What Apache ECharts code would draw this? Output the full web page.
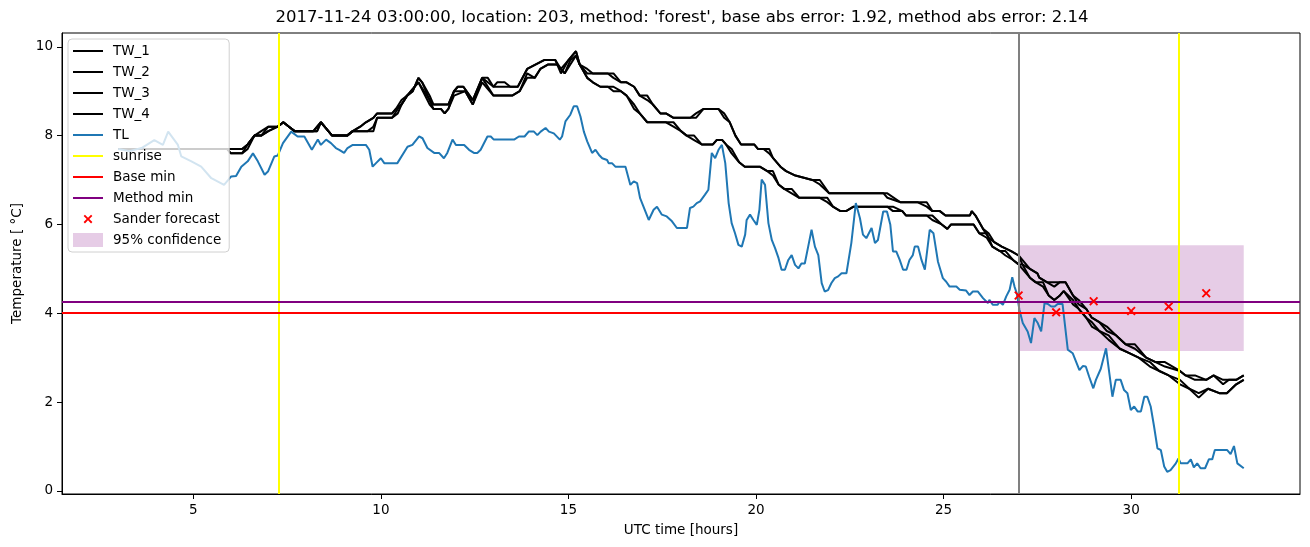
<!DOCTYPE html>
<html>
<head>
<meta charset="utf-8">
<script src="https://cdn.jsdelivr.net/npm/echarts@6/dist/echarts.min.js"></script>
<style>html,body{margin:0;padding:0;background:#fff}#c{width:1310px;height:547px}</style>
</head>
<body>
<div id="c"></div>
<script>
// ---- data (hours UTC, temperature °C) ----
const titleText = "2017-11-24 03:00:00, location: 203, method: 'forest', base abs error: 1.92, method abs error: 2.14";
const xTicks = [5, 10, 15, 20, 25, 30];
const yTicks = [0, 2, 4, 6, 8, 10];

const tw1 = [[3.0,7.7],[5.9,7.7],[6.0,7.7],[6.3,7.7],[6.45,7.8],[6.63,8.0],[6.81,8.1],[7.0,8.2],[7.25,8.2],[7.4,8.3],[7.55,8.2],[7.7,8.1],[8.2,8.1],[8.3,8.2],[8.4,8.3],[8.5,8.2],[8.6,8.1],[8.7,8.0],[9.1,8.0],[9.25,8.1],[9.45,8.2],[9.6,8.3],[9.8,8.4],[9.9,8.5],[10.3,8.5],[10.4,8.6],[10.55,8.8],[10.7,8.9],[10.85,9.0],[11.0,9.3],[11.1,9.2],[11.3,8.8],[11.4,8.7],[11.7,8.7],[11.8,8.7],[11.95,9.0],[12.05,9.1],[12.2,9.1],[12.45,8.8],[12.7,9.3],[12.85,9.3],[13.0,9.1],[13.1,9.1],[13.3,9.1],[13.45,9.1],[13.65,9.1],[13.9,9.5],[14.35,9.7],[14.65,9.7],[14.8,9.4],[15.0,9.7],[15.2,9.9],[15.3,9.6],[15.5,9.5],[15.65,9.4],[15.75,9.4],[15.9,9.4],[16.05,9.4],[16.2,9.3],[16.4,9.2],[16.55,9.2],[16.75,9.1],[16.9,8.9],[17.1,8.8],[17.25,8.7],[17.45,8.5],[17.6,8.5],[17.8,8.4],[18.25,8.4],[18.4,8.5],[18.6,8.6],[19.0,8.6],[19.15,8.4],[19.3,8.3],[19.45,8.0],[19.6,7.8],[19.95,7.8],[20.05,7.7],[20.2,7.7],[20.35,7.6],[20.45,7.5],[20.65,7.3],[20.8,7.2],[21.05,7.1],[21.5,7.0],[21.7,6.9],[21.95,6.7],[23.4,6.7],[23.5,6.6],[23.85,6.5],[24.3,6.5],[24.55,6.4],[24.7,6.3],[24.9,6.3],[25.05,6.2],[25.7,6.2],[25.75,6.3],[25.85,6.2],[26.05,5.9],[26.2,5.7],[26.35,5.6],[26.55,5.5],[26.8,5.4],[27.0,5.3],[27.1,5.1],[27.3,5.0],[27.5,4.9],[27.55,4.8],[27.75,4.7],[27.95,4.6],[28.1,4.7],[28.25,4.7],[28.45,4.4],[28.6,4.2],[28.8,4.1],[28.95,3.9],[29.15,3.8],[29.35,3.6],[29.6,3.5],[29.85,3.3],[30.1,3.2],[30.4,3.0],[30.65,2.9],[30.9,2.8],[31.3,2.7],[31.45,2.6],[31.7,2.5],[32.0,2.5],[32.2,2.6],[32.45,2.5],[32.6,2.5],[32.8,2.5],[33.0,2.6]];

const tw2 = [[3.0,7.7],[5.9,7.7],[6.0,7.7],[6.3,7.7],[6.45,7.8],[6.63,8.0],[6.81,8.0],[7.0,8.2],[7.25,8.2],[7.4,8.3],[7.55,8.2],[7.7,8.1],[8.2,8.1],[8.3,8.1],[8.4,8.3],[8.5,8.2],[8.6,8.1],[8.7,8.0],[9.1,8.0],[9.25,8.1],[9.45,8.2],[9.6,8.3],[9.8,8.4],[9.9,8.5],[10.3,8.5],[10.4,8.6],[10.55,8.7],[10.7,8.9],[10.85,9.0],[11.0,9.3],[11.1,9.2],[11.3,8.9],[11.4,8.7],[11.7,8.7],[11.8,8.7],[11.95,9.0],[12.05,9.1],[12.2,9.1],[12.45,8.8],[12.7,9.3],[12.85,9.2],[13.0,9.1],[13.1,9.2],[13.3,9.2],[13.45,9.1],[13.65,9.1],[13.9,9.5],[14.35,9.7],[14.65,9.7],[14.8,9.5],[15.0,9.7],[15.2,9.9],[15.3,9.6],[15.5,9.4],[15.65,9.4],[15.75,9.4],[15.9,9.4],[16.05,9.4],[16.2,9.4],[16.4,9.2],[16.55,9.2],[16.75,9.1],[16.9,8.9],[17.1,8.9],[17.25,8.7],[17.45,8.5],[17.6,8.5],[17.8,8.4],[18.25,8.4],[18.4,8.4],[18.6,8.6],[19.0,8.6],[19.15,8.5],[19.3,8.3],[19.45,8.0],[19.6,7.8],[19.95,7.8],[20.05,7.7],[20.2,7.7],[20.35,7.7],[20.45,7.5],[20.65,7.3],[20.8,7.2],[21.05,7.1],[21.5,7.0],[21.7,7.0],[21.95,6.7],[23.4,6.7],[23.5,6.7],[23.85,6.5],[24.3,6.5],[24.55,6.5],[24.7,6.3],[24.9,6.3],[25.05,6.2],[25.7,6.2],[25.75,6.3],[25.85,6.2],[26.05,5.9],[26.2,5.8],[26.35,5.6],[26.55,5.5],[26.8,5.4],[27.0,5.3],[27.1,5.2],[27.3,5.0],[27.5,4.9],[27.55,4.8],[27.75,4.7],[27.95,4.7],[28.1,4.7],[28.25,4.7],[28.45,4.4],[28.6,4.3],[28.8,4.1],[28.95,3.9],[29.15,3.8],[29.35,3.7],[29.6,3.5],[29.85,3.3],[30.1,3.3],[30.4,3.0],[30.65,2.9],[30.9,2.9],[31.3,2.7],[31.45,2.6],[31.7,2.6],[32.0,2.5],[32.2,2.6],[32.45,2.4],[32.6,2.5],[32.8,2.5],[33.0,2.6]];

const tw3 = [[3.0,7.7],[5.9,7.7],[6.0,7.6],[6.3,7.6],[6.45,7.8],[6.63,8.0],[6.81,8.0],[7.0,8.1],[7.25,8.2],[7.4,8.3],[7.55,8.2],[7.7,8.1],[8.2,8.1],[8.3,8.2],[8.4,8.3],[8.5,8.2],[8.6,8.1],[8.7,8.0],[9.1,8.0],[9.25,8.1],[9.45,8.1],[9.65,8.1],[9.8,8.2],[9.9,8.4],[10.3,8.4],[10.45,8.6],[10.55,8.7],[10.7,8.9],[10.8,9.0],[11.0,9.2],[11.3,8.7],[11.4,8.6],[11.6,8.6],[11.7,8.5],[11.8,8.6],[11.95,9.0],[12.25,9.0],[12.45,8.7],[12.7,9.3],[13.0,8.9],[13.5,8.9],[13.7,9.0],[13.9,9.4],[14.1,9.3],[14.25,9.5],[14.45,9.6],[14.7,9.6],[14.9,9.4],[15.05,9.7],[15.2,9.8],[15.3,9.6],[15.5,9.3],[15.65,9.2],[15.85,9.1],[16.05,9.1],[16.2,9.0],[16.4,9.0],[16.55,8.9],[16.75,8.6],[16.9,8.5],[17.1,8.3],[17.6,8.3],[17.8,8.2],[18.0,8.1],[18.15,8.0],[18.35,7.9],[18.55,7.8],[18.85,7.8],[18.95,7.9],[19.1,7.9],[19.2,7.8],[19.35,7.6],[19.55,7.4],[19.7,7.3],[20.1,7.3],[20.3,7.2],[20.45,7.1],[20.6,6.9],[20.75,6.8],[20.95,6.7],[21.15,6.6],[21.7,6.6],[21.9,6.5],[22.05,6.4],[22.25,6.3],[22.4,6.3],[22.6,6.4],[23.5,6.4],[23.65,6.3],[23.9,6.3],[24.0,6.2],[24.55,6.2],[24.7,6.1],[24.95,6.0],[25.1,5.9],[25.2,6.0],[25.8,6.0],[25.95,5.8],[26.15,5.7],[26.3,5.5],[26.5,5.4],[26.65,5.3],[26.85,5.2],[27.0,5.1],[27.1,5.0],[27.3,4.8],[27.45,4.7],[27.65,4.6],[27.8,4.4],[27.95,4.3],[28.1,4.4],[28.2,4.5],[28.45,4.2],[28.6,4.1],[28.8,3.9],[28.95,3.7],[29.15,3.6],[29.4,3.4],[29.7,3.2],[29.95,3.1],[30.2,3.0],[30.5,2.8],[30.75,2.7],[31.0,2.6],[31.3,2.4],[31.55,2.3],[31.8,2.1],[32.05,2.3],[32.35,2.2],[32.55,2.2],[32.8,2.4],[33.0,2.5]];

const tw4 = [[3.0,7.7],[5.9,7.7],[6.0,7.6],[6.3,7.6],[6.45,7.7],[6.63,8.0],[6.81,8.0],[7.0,8.1],[7.25,8.2],[7.4,8.3],[7.55,8.2],[7.7,8.1],[8.2,8.1],[8.3,8.1],[8.4,8.3],[8.5,8.2],[8.6,8.1],[8.7,8.0],[9.1,8.0],[9.25,8.1],[9.45,8.1],[9.65,8.1],[9.8,8.1],[9.9,8.4],[10.3,8.4],[10.45,8.5],[10.55,8.7],[10.7,8.9],[10.8,9.0],[11.0,9.2],[11.3,8.8],[11.4,8.6],[11.6,8.6],[11.7,8.5],[11.8,8.6],[11.95,8.9],[12.25,9.0],[12.45,8.7],[12.7,9.2],[13.0,8.9],[13.5,8.9],[13.7,9.0],[13.9,9.3],[14.1,9.3],[14.25,9.5],[14.45,9.6],[14.7,9.6],[14.9,9.4],[15.05,9.6],[15.2,9.8],[15.3,9.6],[15.5,9.3],[15.65,9.2],[15.85,9.1],[16.05,9.1],[16.2,9.1],[16.4,9.0],[16.55,8.9],[16.75,8.7],[16.9,8.5],[17.1,8.3],[17.6,8.3],[17.8,8.3],[18.0,8.1],[18.15,8.0],[18.35,8.0],[18.55,7.8],[18.85,7.8],[18.95,7.9],[19.1,7.9],[19.2,7.8],[19.35,7.7],[19.55,7.4],[19.7,7.3],[20.1,7.3],[20.3,7.2],[20.45,7.2],[20.6,6.9],[20.75,6.8],[20.95,6.8],[21.15,6.6],[21.7,6.6],[21.9,6.6],[22.05,6.4],[22.25,6.3],[22.4,6.3],[22.6,6.4],[23.5,6.4],[23.65,6.4],[23.9,6.3],[24.0,6.2],[24.55,6.2],[24.7,6.2],[24.95,6.0],[25.1,5.9],[25.2,6.0],[25.8,6.0],[25.95,5.8],[26.15,5.8],[26.3,5.5],[26.5,5.4],[26.65,5.4],[26.85,5.2],[27.0,5.1],[27.1,5.1],[27.3,4.8],[27.45,4.7],[27.65,4.7],[27.8,4.4],[27.95,4.3],[28.1,4.4],[28.2,4.5],[28.45,4.3],[28.6,4.1],[28.8,3.9],[28.95,3.8],[29.15,3.6],[29.4,3.5],[29.7,3.2],[29.95,3.1],[30.2,3.0],[30.5,2.9],[30.75,2.7],[31.0,2.6],[31.3,2.5],[31.55,2.3],[31.8,2.2],[32.05,2.3],[32.35,2.2],[32.55,2.2],[32.8,2.4],[33.0,2.5]];

const tl = [[3.0,7.7],[3.3,7.65],[3.62,7.72],[3.96,7.9],[4.19,7.79],[4.33,8.09],[4.59,7.79],[4.68,7.53],[4.95,7.42],[5.21,7.3],[5.48,7.04],[5.82,6.89],[6.01,7.08],[6.14,7.09],[6.28,7.3],[6.45,7.42],[6.59,7.6],[6.72,7.42],[6.9,7.12],[6.99,7.19],[7.16,7.53],[7.25,7.55],[7.39,7.83],[7.61,8.09],[7.78,7.98],[7.96,7.98],[8.16,7.68],[8.32,7.91],[8.4,7.79],[8.54,7.91],[8.67,7.83],[8.8,7.72],[8.89,7.68],[9.02,7.61],[9.11,7.72],[9.25,7.79],[9.6,7.79],[9.69,7.68],[9.78,7.3],[9.87,7.38],[10.0,7.49],[10.09,7.38],[10.44,7.38],[10.71,7.75],[10.84,7.79],[11.02,7.98],[11.11,7.94],[11.24,7.72],[11.42,7.61],[11.55,7.61],[11.68,7.49],[11.77,7.61],[11.91,7.91],[12.0,7.79],[12.22,7.79],[12.35,7.68],[12.48,7.61],[12.57,7.61],[12.66,7.68],[12.84,7.98],[12.93,7.98],[13.01,7.91],[13.55,7.91],[13.68,7.98],[13.83,7.98],[13.94,8.09],[14.08,8.09],[14.17,8.01],[14.26,8.09],[14.39,8.17],[14.48,8.09],[14.61,8.05],[14.77,7.91],[14.83,7.98],[14.92,8.32],[15.05,8.47],[15.14,8.66],[15.23,8.66],[15.32,8.43],[15.41,8.09],[15.5,7.87],[15.63,7.61],[15.72,7.68],[15.81,7.57],[15.9,7.49],[16.03,7.45],[16.07,7.38],[16.16,7.38],[16.25,7.3],[16.52,7.3],[16.65,6.89],[16.74,6.97],[16.83,6.93],[16.91,6.59],[17.0,6.4],[17.14,6.1],[17.27,6.33],[17.36,6.4],[17.49,6.22],[17.62,6.18],[17.76,6.07],[17.89,5.92],[18.16,5.92],[18.24,6.37],[18.33,6.4],[18.42,6.48],[18.51,6.52],[18.64,6.67],[18.73,6.78],[18.82,7.61],[18.91,7.49],[19.0,7.68],[19.09,7.79],[19.18,7.38],[19.27,6.48],[19.35,6.03],[19.44,5.8],[19.53,5.54],[19.62,5.5],[19.71,5.77],[19.75,6.1],[19.84,6.22],[19.93,6.1],[20.02,5.99],[20.09,6.33],[20.15,7.01],[20.24,6.89],[20.33,6.03],[20.42,5.65],[20.51,5.46],[20.6,5.24],[20.68,4.98],[20.77,4.98],[20.86,5.2],[20.95,5.31],[21.04,5.09],[21.13,5.01],[21.21,5.12],[21.3,5.12],[21.39,5.5],[21.48,5.88],[21.57,5.5],[21.66,5.31],[21.75,4.68],[21.83,4.49],[21.92,4.52],[22.01,4.68],[22.1,4.79],[22.19,4.83],[22.28,4.9],[22.41,4.9],[22.54,5.58],[22.66,6.48],[22.77,6.14],[22.85,5.77],[22.94,5.69],[23.08,5.92],[23.17,5.58],[23.25,5.65],[23.39,6.29],[23.49,6.29],[23.58,5.99],[23.65,5.39],[23.74,5.39],[23.83,5.2],[23.92,4.98],[24.01,4.98],[24.09,5.2],[24.18,5.31],[24.23,5.5],[24.32,5.5],[24.41,5.2],[24.5,4.98],[24.63,5.88],[24.73,5.8],[24.85,5.16],[24.98,4.79],[25.07,4.71],[25.16,4.6],[25.34,4.6],[25.43,4.53],[25.6,4.51],[25.69,4.41],[25.78,4.49],[25.91,4.49],[26.05,4.34],[26.18,4.23],[26.22,4.3],[26.31,4.19],[26.44,4.19],[26.49,4.26],[26.58,4.19],[26.67,4.38],[26.76,4.53],[26.83,4.81],[26.89,4.6],[26.95,4.45],[27.02,4.08],[27.11,3.78],[27.24,3.59],[27.33,3.33],[27.42,3.89],[27.51,3.78],[27.6,3.59],[27.69,4.23],[27.78,4.21],[27.87,4.15],[27.96,4.15],[28.04,4.21],[28.17,4.21],[28.31,3.18],[28.44,3.1],[28.53,2.91],[28.62,2.72],[28.71,2.81],[28.79,2.8],[28.88,2.57],[28.99,2.31],[29.06,2.5],[29.19,2.75],[29.33,3.21],[29.5,2.12],[29.59,2.5],[29.72,2.5],[29.81,2.27],[29.9,2.2],[29.99,1.82],[30.08,1.9],[30.17,1.79],[30.26,1.79],[30.35,2.12],[30.43,2.12],[30.52,1.9],[30.61,1.45],[30.7,0.96],[30.79,0.92],[30.88,0.55],[30.96,0.43],[31.05,0.47],[31.19,0.62],[31.26,0.73],[31.32,0.62],[31.5,0.62],[31.59,0.71],[31.67,0.53],[31.76,0.62],[31.85,0.51],[31.97,0.51],[32.07,0.71],[32.16,0.71],[32.23,0.92],[32.56,0.92],[32.65,0.83],[32.74,1.01],[32.83,0.62],[33.0,0.51]];

const sunriseTimes = [7.29, 31.28];
const forecastStart = 27.0;
const baseMin = 4.01;
const methodMin = 4.26;
const sanderX = [27, 28, 29, 30, 31, 32];
const sanderY = [4.40, 4.02, 4.27, 4.05, 4.15, 4.45];
const confX = [27, 33];
const confY = [3.15, 5.53];

// ---- chart ----
const FONT = 'DejaVu Sans';
const chart = echarts.init(document.getElementById('c'), null, {renderer: 'canvas'});
const xMark = 'path://M0,1.5 L1.5,0 L5,3.5 L8.5,0 L10,1.5 L6.5,5 L10,8.5 L8.5,10 L5,6.5 L1.5,10 L0,8.5 L3.5,5 Z';
// same cross, padded with empty sub-paths so it draws smaller inside the legend icon box
const xMarkLegend = 'path://M-3,-3 L-3,-3 M13,13 L13,13 M0,1.5 L1.5,0 L5,3.5 L8.5,0 L10,1.5 L6.5,5 L10,8.5 L8.5,10 L5,6.5 L1.5,10 L0,8.5 L3.5,5 Z';
// line-only legend entries: hide the symbol drawn in the middle of the line icon
const lineIcon = (name) => ({name, itemStyle: {opacity: 0, color: 'rgba(0,0,0,0)', borderWidth: 0}});
const blackLine = (name, d) => ({
  name, type: 'line', data: d, symbol: 'none', showSymbol: false, color: '#000',
  lineStyle: {color: '#000', width: 2}, z: 2, silent: true
});
const option = {
  animation: false,
  backgroundColor: '#fff',
  textStyle: {fontFamily: FONT},
  title: {
    text: titleText, left: 677, top: 4, textAlign: 'center',
    textStyle: {fontFamily: FONT, fontSize: 16.5, fontWeight: 'normal', color: '#000'}
  },
  grid: {left: 62, right: 10, top: 33, bottom: 53, show: true, borderColor: '#000', borderWidth: 1, backgroundColor: 'transparent'},
  xAxis: {
    type: 'value', min: 1.5, max: 34.5,
    name: 'UTC time [hours]', nameLocation: 'middle', nameGap: 29,
    nameTextStyle: {fontFamily: FONT, fontSize: 13.5, color: '#000'},
    axisLine: {show: true, onZero: false, lineStyle: {color: '#000', width: 1}},
    axisTick: {show: true, length: 5, customValues: xTicks, lineStyle: {color: '#000'}},
    axisLabel: {customValues: xTicks, margin: 9, fontFamily: FONT, fontSize: 13.5, color: '#000'},
    splitLine: {show: false}
  },
  yAxis: {
    type: 'value', min: -0.07, max: 10.31,
    name: 'Temperature [ °C]', nameLocation: 'middle', nameGap: 38, nameRotate: 90,
    nameTextStyle: {fontFamily: FONT, fontSize: 13.5, color: '#000'},
    axisLine: {show: true, onZero: false, lineStyle: {color: '#000', width: 1}},
    axisTick: {show: true, length: 5, customValues: yTicks, lineStyle: {color: '#000'}},
    axisLabel: {customValues: yTicks, margin: 9, fontFamily: FONT, fontSize: 13.5, color: '#000'},
    splitLine: {show: false}
  },
  legend: {
    orient: 'vertical', left: 68, top: 39,
    padding: [5, 8, 5, 4], itemGap: 7, itemWidth: 30, itemHeight: 14,
    backgroundColor: 'rgba(255,255,255,0.8)', borderColor: '#d0d0d0', borderWidth: 1, borderRadius: 4,
    textStyle: {fontFamily: FONT, fontSize: 13.5, color: '#000', padding: [0, 0, 0, 5]},
    data: [
      lineIcon('TW_1'), lineIcon('TW_2'), lineIcon('TW_3'), lineIcon('TW_4'), lineIcon('TL'),
      lineIcon('sunrise'), lineIcon('Base min'), lineIcon('Method min'),
      {name: 'Sander forecast', icon: xMarkLegend, itemStyle: {color: '#ff0000'}},
      {name: '95% confidence', icon: 'rect'}
    ],
    selectedMode: false
  },
  series: [
    {
      name: '95% confidence', type: 'line', data: [], symbol: 'none', color: 'rgba(128,0,128,0.2)',
      itemStyle: {color: 'rgba(128,0,128,0.2)'}, lineStyle: {width: 0},
      markArea: {silent: true, itemStyle: {color: 'rgba(128,0,128,0.2)'},
        data: [[{xAxis: confX[0], yAxis: confY[0]}, {xAxis: confX[1], yAxis: confY[1]}]]},
      z: 1
    },
    blackLine('TW_1', tw1),
    blackLine('TW_2', tw2),
    blackLine('TW_3', tw3),
    blackLine('TW_4', tw4),
    {name: 'TL', type: 'line', data: tl, symbol: 'none', color: '#1f77b4',
     lineStyle: {color: '#1f77b4', width: 2}, z: 3, silent: true},
    {
      name: 'forecast start', type: 'line', data: [], symbol: 'none', color: '#808080',
      markLine: {silent: true, symbol: 'none', label: {show: false},
        lineStyle: {color: '#808080', width: 2, type: 'solid'},
        data: [{xAxis: forecastStart}]},
      z: 3
    },
    {
      name: 'sunrise', type: 'line', data: [], symbol: 'none', color: '#ffff00',
      lineStyle: {color: '#ffff00', width: 2},
      markLine: {silent: true, symbol: 'none', label: {show: false},
        lineStyle: {color: '#ffff00', width: 2, type: 'solid'},
        data: sunriseTimes.map(t => ({xAxis: t}))},
      z: 4
    },
    {
      name: 'Base min', type: 'line', data: [], symbol: 'none', color: '#ff0000',
      lineStyle: {color: '#ff0000', width: 2},
      markLine: {silent: true, symbol: 'none', label: {show: false},
        lineStyle: {color: '#ff0000', width: 2, type: 'solid'},
        data: [{yAxis: baseMin}]},
      z: 4
    },
    {
      name: 'Method min', type: 'line', data: [], symbol: 'none', color: '#800080',
      lineStyle: {color: '#800080', width: 2},
      markLine: {silent: true, symbol: 'none', label: {show: false},
        lineStyle: {color: '#800080', width: 2, type: 'solid'},
        data: [{yAxis: methodMin}]},
      z: 4
    },
    {
      name: 'Sander forecast', type: 'scatter', symbol: xMark, symbolSize: 9, color: '#ff0000',
      itemStyle: {color: '#ff0000', opacity: 1},
      data: sanderX.map((x, i) => [x, sanderY[i]]), z: 5, silent: true
    }
  ]
};
chart.setOption(option);
</script>
</body>
</html>
